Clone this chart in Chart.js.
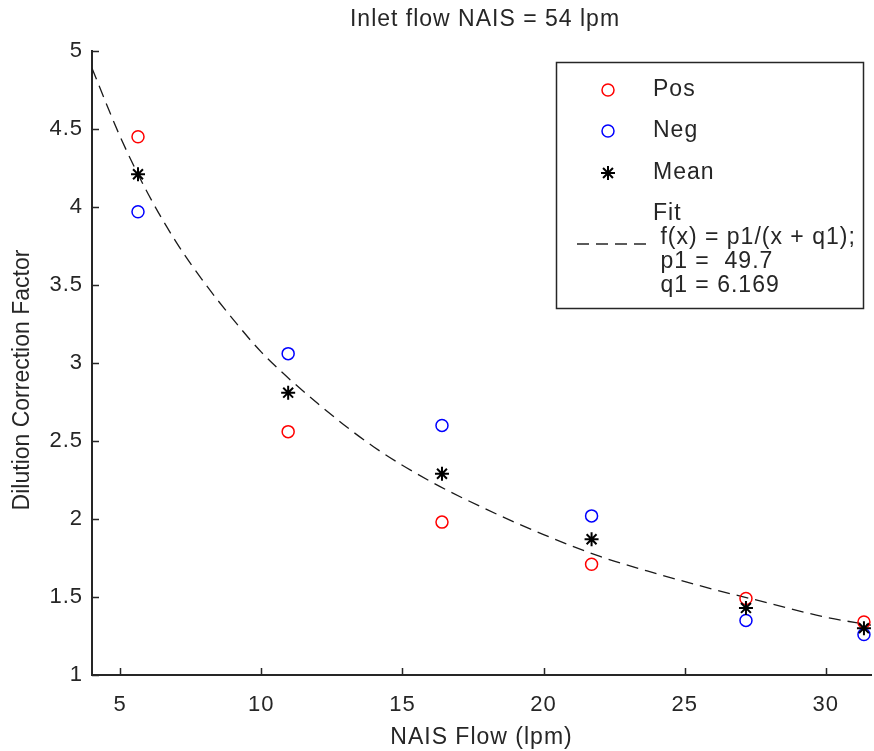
<!DOCTYPE html>
<html><head><meta charset="utf-8">
<script src="https://cdn.jsdelivr.net/npm/chart.js@4/dist/chart.umd.min.js"></script>
<style>html,body{margin:0;padding:0;background:#fff}#wrap{width:874px;height:751px;position:relative}</style>
</head><body><div id="wrap"><canvas id="c" width="874" height="751"></canvas></div>
<script>
const flow = [5.63, 10.95, 16.4, 21.7, 27.17, 31.35];
const posValues = [4.45, 2.56, 1.98, 1.71, 1.49, 1.34];
const negValues = [3.97, 3.06, 2.60, 2.02, 1.35, 1.26];
const meanValues = [4.21, 2.81, 2.29, 1.87, 1.43, 1.30];
const fitX = [4, 5, 6, 7, 8, 9, 10, 12, 14, 16, 18, 20, 22, 24, 26, 28, 30, 31.6];
const fitY = [4.89, 4.45, 4.08, 3.77, 3.51, 3.28, 3.07, 2.74, 2.46, 2.24, 2.06, 1.90, 1.76, 1.65, 1.55, 1.46, 1.37, 1.32];
const xTicks = [5, 10, 15, 20, 25, 30];
const yTicks = [1, 1.5, 2, 2.5, 3, 3.5, 4, 4.5, 5];
const titleText = 'Inlet flow NAIS = 54 lpm';
const xLabel = 'NAIS Flow (lpm)';
const yLabel = 'Dilution Correction Factor';
const legendLabels = ['Pos', 'Neg', 'Mean'];
const fitLegend = ['Fit', ' f(x) = p1/(x + q1);', ' p1 =  49.7', ' q1 = 6.169'];

const FONT = 'Arial, "Liberation Sans", Helvetica, sans-serif';
const INK = '#262626';
const DASH = [12, 7];
const SPACING = '1px';

const pts = (xs, ys) => xs.map((x, i) => ({x: x, y: ys[i]}));

function drawMarker(ctx, style, color, width, r, x, y) {
  ctx.strokeStyle = color; ctx.lineWidth = width;
  ctx.beginPath();
  if (style === 'circle') {
    ctx.arc(x, y, r, 0, Math.PI * 2);
  } else {
    for (let k = 0; k < 4; k++) {
      const a = k * Math.PI / 4;
      ctx.moveTo(x - r * Math.cos(a), y - r * Math.sin(a));
      ctx.lineTo(x + r * Math.cos(a), y + r * Math.sin(a));
    }
  }
  ctx.stroke();
}

const extras = {
  id: 'extras',
  beforeUpdate(chart) { chart.ctx.letterSpacing = SPACING; },
  beforeDraw(chart) { chart.ctx.letterSpacing = SPACING; },
  afterDraw(chart) {
    const ctx = chart.ctx;
    const xs = chart.scales.x, ys = chart.scales.y;
    const area = chart.chartArea;
    ctx.save();
    ctx.letterSpacing = SPACING;
    // inward tick marks
    ctx.strokeStyle = INK; ctx.lineWidth = 1.5;
    ctx.beginPath();
    xTicks.forEach(v => { const p = Math.round(xs.getPixelForValue(v)) + 0.5; ctx.moveTo(p, area.bottom); ctx.lineTo(p, area.bottom - 7); });
    yTicks.forEach(v => { const p = Math.round(ys.getPixelForValue(v)) + 0.5; ctx.moveTo(area.left, p); ctx.lineTo(area.left + 7, p); });
    ctx.stroke();
    // title
    ctx.fillStyle = INK;
    ctx.font = '23px ' + FONT;
    ctx.textAlign = 'center'; ctx.textBaseline = 'middle';
    ctx.fillText(titleText, 485, 20);
    // y axis label
    ctx.save();
    ctx.letterSpacing = '0px';
    ctx.translate(23, 380);
    ctx.rotate(-Math.PI / 2);
    ctx.fillText(yLabel, 0, 0);
    ctx.restore();
    // legend box
    ctx.fillStyle = '#fff';
    ctx.fillRect(556, 62, 307, 246);
    ctx.strokeStyle = INK; ctx.lineWidth = 1.5;
    ctx.strokeRect(556.5, 62.5, 307, 246);
    const mx = 608, tx = 653;
    const rows = [90, 131, 173];
    const ds = chart.data.datasets;
    ctx.font = '23px ' + FONT;
    ctx.textAlign = 'left'; ctx.textBaseline = 'middle';
    rows.forEach((y, i) => {
      const d = ds[i];
      drawMarker(ctx, d.pointStyle, d.borderColor, d.borderWidth, d.pointRadius, mx, y);
      ctx.fillStyle = INK;
      ctx.fillText(legendLabels[i], tx, y);
    });
    const fy = [214, 238, 262, 286];
    fitLegend.forEach((t, i) => ctx.fillText(t, tx, fy[i]));
    ctx.strokeStyle = INK; ctx.lineWidth = 1.3; ctx.setLineDash(DASH);
    ctx.beginPath(); ctx.moveTo(577, 244); ctx.lineTo(647, 244); ctx.stroke();
    ctx.restore();
  }
};

new Chart(document.getElementById('c'), {
  type: 'scatter',
  data: {
    datasets: [
      {label: 'Pos', data: pts(flow, posValues), pointStyle: 'circle', pointRadius: 6, borderWidth: 1.5, borderColor: '#ff0000', backgroundColor: 'rgba(0,0,0,0)', order: 2, clip: false},
      {label: 'Neg', data: pts(flow, negValues), pointStyle: 'circle', pointRadius: 6, borderWidth: 1.5, borderColor: '#0000ff', backgroundColor: 'rgba(0,0,0,0)', order: 2, clip: false},
      {label: 'Mean', data: pts(flow, meanValues), pointStyle: 'star', pointRadius: 7, borderWidth: 2, borderColor: '#000000', backgroundColor: '#000000', order: 1, clip: false},
      {label: 'Fit', data: pts(fitX, fitY), showLine: true, pointRadius: 0, borderColor: '#1a1a1a', borderWidth: 1.3, borderDash: DASH, cubicInterpolationMode: 'monotone', order: 3}
    ]
  },
  options: {
    responsive: false, animation: false, devicePixelRatio: 1,
    layout: {autoPadding: false, padding: {top: 51, right: 3, left: 0, bottom: 0}},
    plugins: {legend: {display: false}, tooltip: {enabled: false}, title: {display: false}},
    scales: {
      x: {
        type: 'linear', min: 4, max: 31.6,
        afterBuildTicks: s => { s.ticks = xTicks.map(v => ({value: v})); },
        afterFit: s => { s.height = 76; s.paddingLeft = 0; s.paddingRight = 0; },
        grid: {display: false, drawTicks: false},
        border: {display: true, color: INK, width: 2},
        ticks: {font: {family: FONT, size: 22}, color: INK, padding: 17, maxRotation: 0, autoSkip: false, callback: v => String(v)},
        title: {display: true, text: xLabel, font: {family: FONT, size: 23}, color: INK, padding: {top: 0, bottom: 0}}
      },
      y: {
        type: 'linear', min: 1, max: 5,
        afterBuildTicks: s => { s.ticks = yTicks.map(v => ({value: v})); },
        afterFit: s => { s.width = 92; },
        grid: {display: false, drawTicks: false},
        border: {display: true, color: INK, width: 2},
        ticks: {font: {family: FONT, size: 22}, color: INK, padding: 9, autoSkip: false, callback: v => String(v)},
        title: {display: false}
      }
    }
  },
  plugins: [extras]
});
</script></body></html>
